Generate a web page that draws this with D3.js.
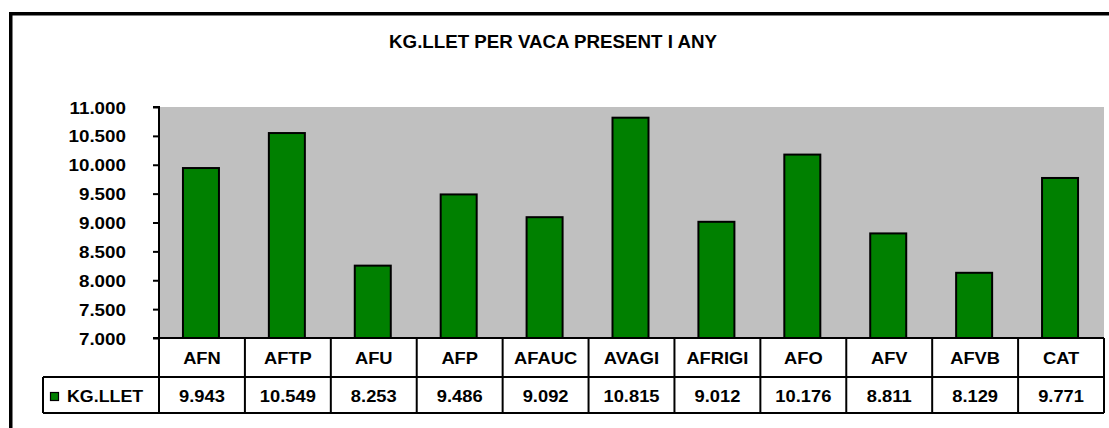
<!DOCTYPE html>
<html><head><meta charset="utf-8">
<script src="https://cdn.jsdelivr.net/npm/d3@7"></script>
<style>body{margin:0;background:#fff}svg{display:block}text{font-family:"Liberation Sans",Arial,sans-serif;font-weight:bold;fill:#000}</style>
</head><body>
<script>
const categories = ["AFN","AFTP","AFU","AFP","AFAUC","AVAGI","AFRIGI","AFO","AFV","AFVB","CAT"];
const seriesName = "KG.LLET";
const values = [9943,10549,8253,9486,9092,10815,9012,10176,8811,8129,9771];
const valueLabels = ["9.943","10.549","8.253","9.486","9.092","10.815","9.012","10.176","8.811","8.129","9.771"];
const yTicks = [7000,7500,8000,8500,9000,9500,10000,10500,11000];
const yTickLabels = ["7.000","7.500","8.000","8.500","9.000","9.500","10.000","10.500","11.000"];
const title = "KG.LLET PER VACA PRESENT I ANY";

const W = 1109, H = 428;
const svg = d3.select("body").append("svg").attr("width", W).attr("height", H);
const plot = {left:159, right:1104, top:107, bottom:338};
const rowMid = 377, rowBot = 413, legLeft = 43;
const FS = 16.5;

const x = d3.scaleBand().domain(categories).range([plot.left, plot.right]).paddingInner(0).paddingOuter(0);
const y = d3.scaleLinear().domain([7000, 11000]).range([plot.bottom, plot.top]);

function label(px, py, txt, anchor, fs, sx) {
  const g = svg.append("g").attr("transform", `translate(${px},${py}) scale(${sx||1.11},1)`);
  g.append("text").attr("text-anchor", anchor).attr("dominant-baseline","central")
    .style("font-size", (fs||FS)+"px").text(txt);
}

// outer frame
svg.append("path").attr("d", `M10.75,${H+5} L10.75,13.75 L${W+5},13.75`)
  .attr("fill","none").attr("stroke","#000").attr("stroke-width",3.5);

// plot background
svg.append("rect").attr("x", plot.left).attr("y", plot.top)
  .attr("width", plot.right-plot.left).attr("height", plot.bottom-plot.top).attr("fill","#C0C0C0");

// title
label(553, 42, title, "middle", 17.5, 1.07);

// bars
const bw = 36;
svg.selectAll("rect.bar").data(values).join("rect").attr("class","bar")
  .attr("x", (d,i) => x(categories[i]) + x.bandwidth()/2 - bw/2 - 1)
  .attr("y", d => y(d)).attr("width", bw).attr("height", d => y(7000) - y(d))
  .attr("fill","#008000").attr("stroke","#000").attr("stroke-width",2);

// y axis
const ax = svg.append("g").attr("transform", `translate(${plot.left},0)`)
  .call(d3.axisLeft(y).tickValues(yTicks).tickSize(6).tickFormat(""));
ax.selectAll("path, line").attr("stroke","#000").attr("stroke-width",2);
ax.select("path").attr("d", `M-6,${plot.top}H0V${plot.bottom}H-6`);
yTicks.forEach((t,i) => label(126, y(t)+1, yTickLabels[i], "end", FS, 1.14));

// data table
const line = (x1,y1,x2,y2) => svg.append("line").attr("x1",x1).attr("y1",y1).attr("x2",x2).attr("y2",y2)
  .attr("stroke","#000").attr("stroke-width",2);
line(plot.left-6, plot.bottom, plot.right, plot.bottom);
line(legLeft, rowMid, plot.right, rowMid);
line(legLeft, rowBot, plot.right, rowBot);
line(legLeft, rowMid, legLeft, rowBot);
categories.forEach(c => line(x(c), plot.bottom, x(c), rowBot));
line(plot.right, plot.bottom, plot.right, rowBot);

categories.forEach((c,i) => {
  const cx = x(c) + x.bandwidth()/2;
  label(cx, (plot.bottom+rowMid)/2 + 1, c, "middle");
  label(cx, (rowMid+rowBot)/2 + 1, valueLabels[i], "middle");
});

// legend key
svg.append("rect").attr("x", 50.5).attr("y", 392.5).attr("width", 8).attr("height", 8)
  .attr("fill","#008000").attr("stroke","#000").attr("stroke-width",1.2);
label(67, (rowMid+rowBot)/2 + 1, seriesName, "start", FS, 1.08);
</script>
</body></html>
